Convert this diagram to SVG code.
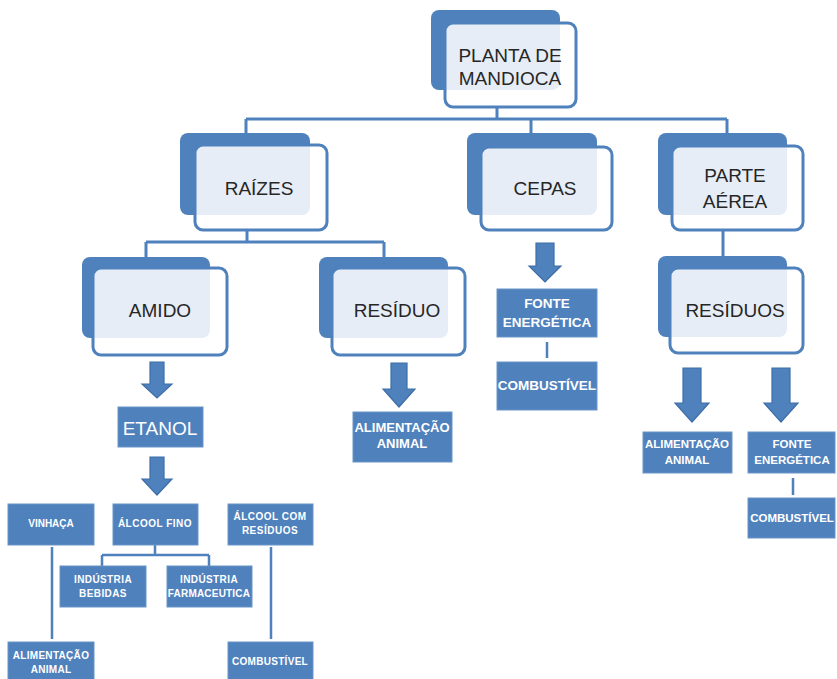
<svg xmlns="http://www.w3.org/2000/svg" width="837" height="679" viewBox="0 0 837 679">
<style>
.back{fill:#4f81bd}
.front{fill:#ffffff;fill-opacity:0.86;stroke:#4f81bd;stroke-width:3}
.big{font-family:"Liberation Sans",Arial,sans-serif;font-size:19px;fill:#262626;text-anchor:middle}
.box{fill:#4f81bd;stroke:#6a95c8;stroke-width:1}
.w{font-family:"Liberation Sans",Arial,sans-serif;font-weight:bold;fill:#ffffff;text-anchor:middle}
.line{stroke:#4f81bd;stroke-width:3;fill:none}
.thin{stroke:#4f81bd;stroke-width:2.5;fill:none}
.arrow{fill:#4f81bd;stroke:#3d6ea8;stroke-width:1.2}
</style>
<rect width="837" height="679" fill="#ffffff"/>
<g id="connectors">
<path class="line" d="M497 107V119M246 119H727M246 119V134M531 119V134M727 119V134"/>
<path class="line" d="M247 230V242M146 242H384M146 242V257M384 242V257"/>
<path class="line" d="M723 230V257"/>
<path class="arrow" d="M150 362H164V384H172L157 398L142 384H150Z"/>
<path class="arrow" d="M150 457H164V479H172L157 495L142 479H150Z"/>
<path class="arrow" d="M391 363H407V389H415L399 407L383 389H391Z"/>
<path class="arrow" d="M536 243H554V266H561L545 282L529 266H536Z"/>
<path class="arrow" d="M683 368H701V403H709L692 422L675 403H683Z"/>
<path class="arrow" d="M772 368H790V403H798L781 422L764 403H772Z"/>
<path class="thin" d="M547 342V358M793 478V495"/>
<path class="thin" d="M155 545V555M102 555H209M102 555V566M209 555V566"/>
<path class="thin" d="M52 547V639M271 547V639"/>
</g>
<g id="n-planta">
<rect class="back" x="431" y="10" width="129" height="80" rx="8"/>
<rect class="front" x="445" y="23" width="131" height="84" rx="8"/>
<text class="big" x="510" y="62">PLANTA DE</text>
<text class="big" x="510" y="85">MANDIOCA</text>
</g>
<g id="n-raizes">
<rect class="back" x="180" y="133" width="130" height="82" rx="8"/>
<rect class="front" x="195" y="145" width="132" height="85" rx="8"/>
<text class="big" x="259" y="195">RAÍZES</text>
</g>
<g id="n-cepas">
<rect class="back" x="467" y="133" width="130" height="82" rx="8"/>
<rect class="front" x="481" y="147" width="131" height="83" rx="8"/>
<text class="big" x="545" y="195">CEPAS</text>
</g>
<g id="n-parte">
<rect class="back" x="658" y="133" width="129" height="82" rx="8"/>
<rect class="front" x="672" y="146" width="131" height="84" rx="8"/>
<text class="big" x="735" y="182">PARTE</text>
<text class="big" x="735" y="208">AÉREA</text>
</g>
<g id="n-amido">
<rect class="back" x="82" y="257" width="128" height="81" rx="8"/>
<rect class="front" x="93" y="268" width="134" height="87" rx="8"/>
<text class="big" x="160" y="317">AMIDO</text>
</g>
<g id="n-residuo">
<rect class="back" x="319" y="257" width="129" height="81" rx="8"/>
<rect class="front" x="332" y="268" width="133" height="87" rx="8"/>
<text class="big" x="397" y="317">RESÍDUO</text>
</g>
<g id="n-residuos">
<rect class="back" x="658" y="256" width="129" height="81" rx="8"/>
<rect class="front" x="670" y="268" width="133" height="85" rx="8"/>
<text class="big" x="735" y="317">RESÍDUOS</text>
</g>
<g id="n-etanol">
<rect class="box" x="118" y="407" width="85" height="40"/>
<text class="w" x="160" y="435" font-size="19" style="font-weight:normal">ETANOL</text>
</g>
<g id="n-alim-mid">
<rect class="box" x="353" y="412" width="99" height="50"/>
<text class="w" x="402" y="432" font-size="13">ALIMENTAÇÃO</text>
<text class="w" x="402" y="448" font-size="13">ANIMAL</text>
</g>
<g id="n-fonte-cepas">
<rect class="box" x="497" y="289" width="100" height="48"/>
<text class="w" x="547" y="308" font-size="13.5">FONTE</text>
<text class="w" x="547" y="327" font-size="13.5">ENERGÉTICA</text>
</g>
<g id="n-comb-cepas">
<rect class="box" x="497" y="362" width="100" height="48"/>
<text class="w" x="547" y="390" font-size="13.5">COMBUSTÍVEL</text>
</g>
<g id="n-alim-right">
<rect class="box" x="643" y="432" width="89" height="41"/>
<text class="w" x="687" y="448" font-size="11.5">ALIMENTAÇÃO</text>
<text class="w" x="687" y="464" font-size="11.5">ANIMAL</text>
</g>
<g id="n-fonte-right">
<rect class="box" x="748" y="432" width="87" height="41"/>
<text class="w" x="792" y="448" font-size="11.5">FONTE</text>
<text class="w" x="792" y="464" font-size="11.5">ENERGÉTICA</text>
</g>
<g id="n-comb-right">
<rect class="box" x="748" y="498" width="87" height="40"/>
<text class="w" x="792" y="522" font-size="11.5">COMBUSTÍVEL</text>
</g>
<g id="n-vinhaca">
<rect class="box" x="8" y="504" width="86" height="41"/>
<text class="w" x="51" y="527" font-size="10">VINHAÇA</text>
</g>
<g id="n-alcool-fino">
<rect class="box" x="113" y="504" width="85" height="41"/>
<text class="w" x="155" y="527" font-size="10" letter-spacing="0.5">ÁLCOOL FINO</text>
</g>
<g id="n-alcool-com">
<rect class="box" x="228" y="504" width="85" height="41"/>
<text class="w" x="270" y="520" font-size="10" letter-spacing="0.5">ÁLCOOL COM</text>
<text class="w" x="270" y="534" font-size="10" letter-spacing="0.5">RESÍDUOS</text>
</g>
<g id="n-ind-bebidas">
<rect class="box" x="60" y="566" width="86" height="41"/>
<text class="w" x="103" y="583" font-size="10" letter-spacing="0.4">INDÚSTRIA</text>
<text class="w" x="103" y="597" font-size="10" letter-spacing="0.4">BEBIDAS</text>
</g>
<g id="n-ind-farma">
<rect class="box" x="167" y="566" width="85" height="41"/>
<text class="w" x="209" y="583" font-size="10" letter-spacing="0.4">INDÚSTRIA</text>
<text class="w" x="209" y="597" font-size="10" letter-spacing="0.2">FARMACEUTICA</text>
</g>
<g id="n-alim-left">
<rect class="box" x="8" y="642" width="86" height="40"/>
<text class="w" x="51" y="659" font-size="10" letter-spacing="0.3">ALIMENTAÇÃO</text>
<text class="w" x="51" y="673" font-size="10" letter-spacing="0.3">ANIMAL</text>
</g>
<g id="n-comb-left">
<rect class="box" x="228" y="642" width="85" height="40"/>
<text class="w" x="270" y="665" font-size="10" letter-spacing="0.3">COMBUSTÍVEL</text>
</g>
</svg>
